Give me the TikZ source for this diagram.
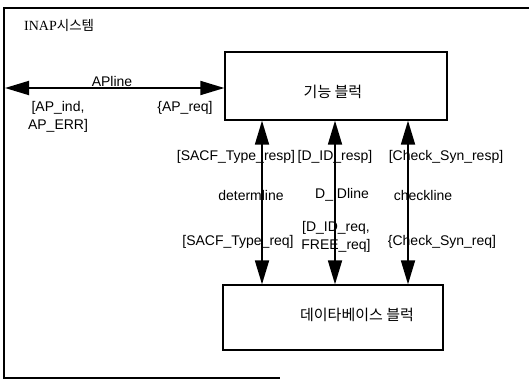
\documentclass[tikz,border=0pt]{standalone}
\usepackage{fontspec}
\setmainfont{Liberation Sans}
\newfontfamily\kor{Noto Sans CJK KR}
\newfontfamily\ser{Liberation Serif}
\usetikzlibrary{arrows.meta}
\begin{document}
\begin{tikzpicture}[x=1pt,y=-1pt,
  lbl/.style={font=\fontsize{14}{18}\selectfont, inner sep=0pt, align=center},
  kort/.style={font=\kor\fontsize{15}{18}\selectfont, inner sep=0pt},
  blk/.style={draw, line width=1.3pt, inner sep=0pt},
  frame/.style={line width=1.3pt},
  conn/.style={line width=1.8pt,
    {Triangle[length=24pt,width=14pt]}-{Triangle[length=24pt,width=14pt]}}]
\useasboundingbox (0,0) rectangle (529,380);
% outer frame
\draw[frame] (529,8) -- (4,8) -- (4,378) -- (280,378);
\node[inner sep=0pt, anchor=west] (title) at (24,25)
  {\ser\fontsize{14}{16}\selectfont INAP\kor\fontsize{13.5}{16}\selectfont 시스템};
% blocks
\node[blk, minimum width=222pt, minimum height=68pt] (fb) at (336,86) {};
\node[kort] (fbt) at (333,92) {기능 블럭};
\node[blk, minimum width=220pt, minimum height=65pt] (db) at (333,317.5) {};
\node[kort] (dbt) at (357,315) {데이타베이스 블럭};
% APline
\coordinate (apL) at (5,88);
\draw[conn] (apL) -- (apL -| fb.west);
\node[lbl] (apline) at (112,81) {APline};
\node[lbl] (apind) at (58,117) {[AP\_ind,\\ AP\_ERR]};
\node[lbl] (apreq) at (185,108) {\{AP\_req]};
% vertical connectors
\coordinate (c1) at (262,0);
\coordinate (c2) at (335,0);
\coordinate (c3) at (408,0);
\draw[conn] (fb.south -| c1) -- (db.north -| c1);
\draw[conn] (fb.south -| c2) -- (db.north -| c2);
\draw[conn] (fb.south -| c3) -- (db.north -| c3);
% labels
\node[lbl] (l1a) at (236,157) {[SACF\_Type\_resp]};
\node[lbl] (l2a) at (335,157) {[D\_ID\_resp]};
\node[lbl] (l3a) at (446,157) {[Check\_Syn\_resp]};
\node[lbl] (l1b) at (251,195) {determline};
\node[lbl] (l2b) at (342,195) {D\_IDline};
\node[lbl] (l3b) at (423,195) {checkline};
\node[lbl] (l1c) at (238,242) {[SACF\_Type\_req]};
\node[lbl] (l2c) at (336,237) {[D\_ID\_req,\\FREE\_req]};
\node[lbl] (l3c) at (442,242) {\{Check\_Syn\_req]};
\end{tikzpicture}
\end{document}
